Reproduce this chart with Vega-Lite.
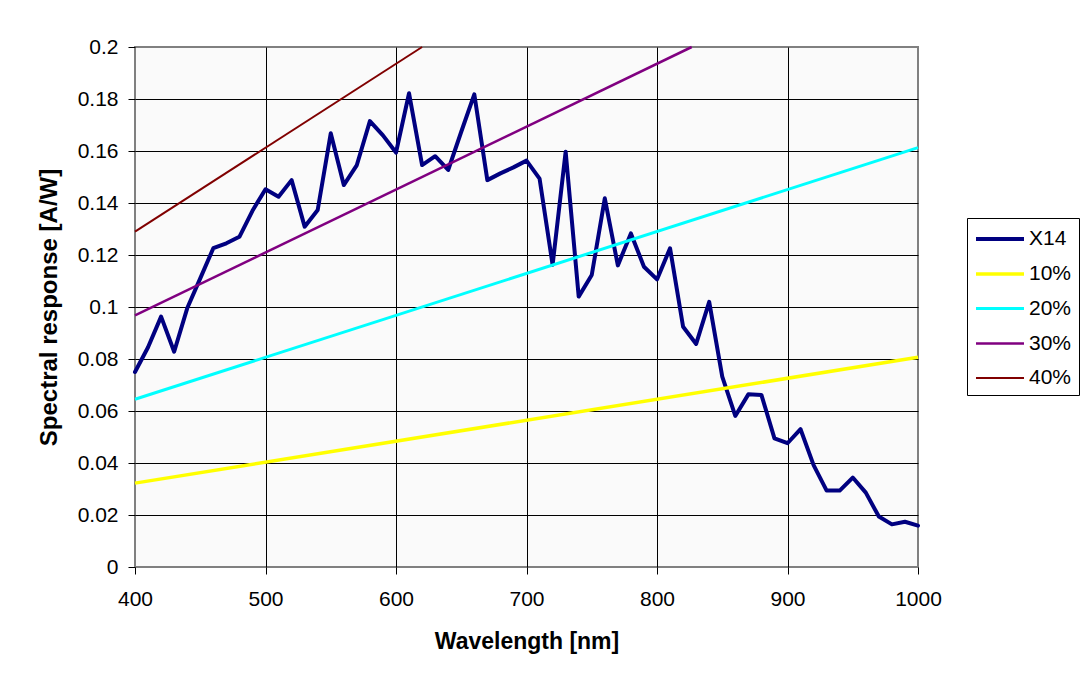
{
  "$schema": "https://vega.github.io/schema/vega-lite/v6.json",
  "autosize": {"type": "none"},
  "padding": {"left": 135, "top": 47, "right": 164, "bottom": 112},
  "width": 783,
  "height": 520,
  "background": "white",
  "config": {
    "font": "Liberation Sans",
    "view": {"fill": "#fafafa", "stroke": "#808080", "strokeWidth": 2},
    "axis": {
      "domain": false,
      "gridColor": "black",
      "gridWidth": 1,
      "tickColor": "black",
      "tickSize": 7,
      "tickWidth": 1,
      "labelColor": "black",
      "titleColor": "black"
    }
  },
  "layer": [
    {
      "data": {
        "values": [
          {"wl": 400, "r": 0.075, "series": "X14"},
          {"wl": 410, "r": 0.0845, "series": "X14"},
          {"wl": 420, "r": 0.0963, "series": "X14"},
          {"wl": 430, "r": 0.0828, "series": "X14"},
          {"wl": 440, "r": 0.0995, "series": "X14"},
          {"wl": 450, "r": 0.111, "series": "X14"},
          {"wl": 460, "r": 0.1226, "series": "X14"},
          {"wl": 470, "r": 0.1245, "series": "X14"},
          {"wl": 480, "r": 0.127, "series": "X14"},
          {"wl": 490, "r": 0.137, "series": "X14"},
          {"wl": 500, "r": 0.1453, "series": "X14"},
          {"wl": 510, "r": 0.1424, "series": "X14"},
          {"wl": 520, "r": 0.1488, "series": "X14"},
          {"wl": 530, "r": 0.1309, "series": "X14"},
          {"wl": 540, "r": 0.1373, "series": "X14"},
          {"wl": 550, "r": 0.1668, "series": "X14"},
          {"wl": 560, "r": 0.1469, "series": "X14"},
          {"wl": 570, "r": 0.1546, "series": "X14"},
          {"wl": 580, "r": 0.1715, "series": "X14"},
          {"wl": 590, "r": 0.166, "series": "X14"},
          {"wl": 600, "r": 0.1594, "series": "X14"},
          {"wl": 610, "r": 0.1822, "series": "X14"},
          {"wl": 620, "r": 0.1546, "series": "X14"},
          {"wl": 630, "r": 0.158, "series": "X14"},
          {"wl": 640, "r": 0.1527, "series": "X14"},
          {"wl": 650, "r": 0.1674, "series": "X14"},
          {"wl": 660, "r": 0.1818, "series": "X14"},
          {"wl": 670, "r": 0.1488, "series": "X14"},
          {"wl": 680, "r": 0.1514, "series": "X14"},
          {"wl": 690, "r": 0.1537, "series": "X14"},
          {"wl": 700, "r": 0.1563, "series": "X14"},
          {"wl": 710, "r": 0.1494, "series": "X14"},
          {"wl": 720, "r": 0.1162, "series": "X14"},
          {"wl": 730, "r": 0.1597, "series": "X14"},
          {"wl": 740, "r": 0.104, "series": "X14"},
          {"wl": 750, "r": 0.1123, "series": "X14"},
          {"wl": 760, "r": 0.1418, "series": "X14"},
          {"wl": 770, "r": 0.116, "series": "X14"},
          {"wl": 780, "r": 0.1283, "series": "X14"},
          {"wl": 790, "r": 0.1155, "series": "X14"},
          {"wl": 800, "r": 0.1106, "series": "X14"},
          {"wl": 810, "r": 0.1226, "series": "X14"},
          {"wl": 820, "r": 0.0924, "series": "X14"},
          {"wl": 830, "r": 0.0858, "series": "X14"},
          {"wl": 840, "r": 0.102, "series": "X14"},
          {"wl": 850, "r": 0.0732, "series": "X14"},
          {"wl": 860, "r": 0.0581, "series": "X14"},
          {"wl": 870, "r": 0.0664, "series": "X14"},
          {"wl": 880, "r": 0.0662, "series": "X14"},
          {"wl": 890, "r": 0.0495, "series": "X14"},
          {"wl": 900, "r": 0.0476, "series": "X14"},
          {"wl": 910, "r": 0.053, "series": "X14"},
          {"wl": 920, "r": 0.0392, "series": "X14"},
          {"wl": 930, "r": 0.0294, "series": "X14"},
          {"wl": 940, "r": 0.0294, "series": "X14"},
          {"wl": 950, "r": 0.0344, "series": "X14"},
          {"wl": 960, "r": 0.0286, "series": "X14"},
          {"wl": 970, "r": 0.0194, "series": "X14"},
          {"wl": 980, "r": 0.0164, "series": "X14"},
          {"wl": 990, "r": 0.0174, "series": "X14"},
          {"wl": 1000, "r": 0.0159, "series": "X14"}
        ]
      },
      "mark": {"type": "line", "strokeJoin": "round", "strokeCap": "round"},
      "encoding": {
        "x": {
          "field": "wl", "type": "quantitative",
          "scale": {"domain": [400, 1000], "nice": false, "zero": false},
          "axis": {
            "title": "Wavelength [nm]",
            "values": [400, 500, 600, 700, 800, 900, 1000],
            "format": "d",
            "labelFont": "Liberation Sans",
            "labelFontSize": 21,
            "labelFlush": false,
            "labelBound": false,
            "labelPadding": 14,
            "titleFont": "Liberation Sans",
            "titleFontSize": 23,
            "titleFontWeight": "bold",
            "titlePadding": 21,
            "gridOpacity": {"condition": {"test": "datum.value == 400 || datum.value == 1000", "value": 0}, "value": 1}
          }
        },
        "y": {
          "field": "r", "type": "quantitative",
          "scale": {"domain": [0, 0.2], "nice": false},
          "axis": {
            "title": "Spectral response [A/W]",
            "values": [0, 0.02, 0.04, 0.06, 0.08, 0.1, 0.12, 0.14, 0.16, 0.18, 0.2],
            "format": ".2~f",
            "labelFont": "Liberation Sans",
            "labelFontSize": 21,
            "labelFlush": false,
            "labelBound": false,
            "labelPadding": 10,
            "titleFont": "Liberation Sans",
            "titleFontSize": 24,
            "titleFontWeight": "bold",
            "titlePadding": 16,
            "gridOpacity": {"condition": {"test": "datum.value == 0 || datum.value == 0.2", "value": 0}, "value": 1}
          }
        },
        "color": {
          "field": "series", "type": "nominal",
          "scale": {
            "domain": ["X14", "10%", "20%", "30%", "40%"],
            "range": ["#000080", "#ffff00", "#00ffff", "#800080", "#800000"]
          },
          "legend": {
            "title": null,
            "orient": "none",
            "legendX": 832,
            "legendY": 171,
            "symbolType": "M-2,0H2",
            "symbolSize": 576,
            "symbolOffset": 12,
            "labelFont": "Liberation Sans",
            "labelFontSize": 21,
            "labelColor": "black",
            "labelOffset": 15,
            "rowPadding": 11,
            "padding": 7,
            "strokeColor": "black",
            "fillColor": "white"
          }
        },
        "strokeWidth": {
          "field": "series", "type": "nominal",
          "scale": {"domain": ["X14", "10%", "20%", "30%", "40%"], "range": [4, 2, 2, 2, 2]},
          "legend": {
            "title": null,
            "orient": "none",
            "legendX": 832,
            "legendY": 171,
            "symbolType": "M-2,0H2",
            "symbolSize": 576,
            "symbolOffset": 12,
            "labelFont": "Liberation Sans",
            "labelFontSize": 21,
            "labelColor": "black",
            "labelOffset": 15,
            "rowPadding": 11,
            "padding": 7,
            "strokeColor": "black",
            "fillColor": "white"
          }
        }
      }
    },
    {
      "data": {
        "values": [
          {"wl": 400, "r": 0.03226, "series": "10%"},
          {"wl": 1000, "r": 0.08065, "series": "10%"},
          {"wl": 400, "r": 0.06452, "series": "20%"},
          {"wl": 1000, "r": 0.1613, "series": "20%"},
          {"wl": 400, "r": 0.09678, "series": "30%"},
          {"wl": 826.6, "r": 0.2, "series": "30%"},
          {"wl": 400, "r": 0.129, "series": "40%"},
          {"wl": 620, "r": 0.2, "series": "40%"}
        ]
      },
      "mark": {"type": "line"},
      "encoding": {
        "x": {"field": "wl", "type": "quantitative"},
        "y": {"field": "r", "type": "quantitative"},
        "color": {"field": "series", "type": "nominal"},
        "strokeWidth": {"field": "series", "type": "nominal"}
      }
    }
  ]
}
